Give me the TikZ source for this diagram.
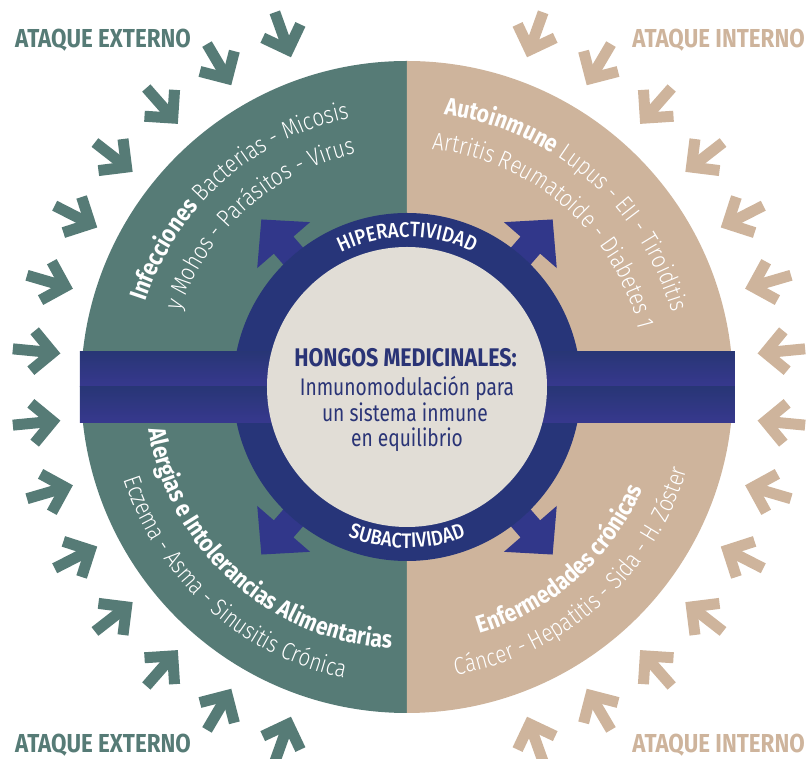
\documentclass[tikz,border=0pt]{standalone}
\usepackage{fontspec}
\usetikzlibrary{decorations.text}
\setmainfont{Fira Sans}
\newfontfamily\cfam[FakeStretch=0.80]{Fira Sans}
\newfontfamily\cwide[FakeStretch=0.86]{Fira Sans}
\newfontfamily\ctitle[FakeStretch=0.84]{Fira Sans}
\newfontfamily\clight[FakeStretch=0.84]{Fira Sans Light}
\newfontfamily\cmed[FakeStretch=0.88]{Fira Sans Medium}

\definecolor{sage}{HTML}{567B76}
\definecolor{sand}{HTML}{CEB49C}
\definecolor{ringblue}{HTML}{273579}
\definecolor{core}{HTML}{E1DDD6}
\definecolor{inkblue}{HTML}{2A3476}
\definecolor{barTop}{HTML}{283676}
\definecolor{barBot}{HTML}{37388E}
\definecolor{arrowblue}{HTML}{31378A}

% fonts used along the curved lines
\newcommand\ringlt{\clight\fontsize{24.5}{28}\selectfont\color{white}}
\newcommand\ringbf{\cwide\bfseries\fontsize{24.5}{28}\selectfont\color{white}}
\newcommand\ringcap{\cmed\fontsize{21}{25}\selectfont\color{white}}

\tikzset{
  chev/.style={line width=11pt, line join=miter, line cap=butt},
  attack/.style={inner sep=0pt, font=\cwide\bfseries\fontsize{26}{30}\selectfont},
  coretitle/.style={inner sep=0pt, anchor=base, text=inkblue, font=\ctitle\bfseries\fontsize{25.5}{29}\selectfont},
  coreline/.style={inner sep=0pt, anchor=base, text=inkblue, font=\cfam\fontsize{24}{28}\selectfont},
  outarrow/.style={fill=arrowblue},
  curved/.style={decorate, decoration={text along path, text align=center, text={#1}}}
}

\begin{document}
\begin{tikzpicture}[x=1pt,y=1pt]
\useasboundingbox (-407,-372) rectangle (400,387);

% outer disc: external half and internal half
\fill[sage] (0,-326) arc[start angle=-90, end angle=-270, radius=326] -- cycle;
\fill[sand] (0,326) arc[start angle=90, end angle=-90, radius=326] -- cycle;

% chevron arrows pointing at the disc
\foreach \a in {5.5,16.3,27.1,37.9,48.7,59.5,70.3}{
  \foreach \s in {1,-1}{
    \pgfmathsetmacro\ang{\s*\a}
    \pgfmathsetmacro\angL{180+\s*\a}
    \begin{scope}[shift={(2,0)}, shift={(\ang:358)}, rotate=\ang+180]
      \draw[chev, draw=sand] (-40,0) -- (0,0);
      \draw[chev, draw=sand] (-20,20) -- (0,0) -- (-20,-20);
    \end{scope}
    \begin{scope}[shift={(2,0)}, shift={(\angL:358)}, rotate=\angL+180]
      \draw[chev, draw=sage] (-40,0) -- (0,0);
      \draw[chev, draw=sage] (-20,20) -- (0,0) -- (-20,-20);
    \end{scope}
  }
}

% diagonal arrows leaving the ring
\foreach \a in {49,131,229,311}
  \fill[outarrow, rotate=\a] (150,-13) -- (188,-13) -- (188,-35) -- (222,0)
        -- (188,35) -- (188,13) -- (150,13) -- cycle;

% ring
\fill[ringblue] (0,0) circle[radius=174];

% horizontal bar in two bands
\shade[top color=barTop, bottom color=barBot] (-327,35) rectangle (328,0);
\shade[top color=barTop, bottom color=barBot] (-327,0) rectangle (328,-36);

% core
\fill[core] (0,0) circle[radius=140];

% ring labels
\path[curved={|\ringcap|HIPERACTIVIDAD}] (150:150) arc[start angle=150, end angle=30, radius=150];
\path[curved={|\ringcap|SUBACTIVIDAD}] (210:161) arc[start angle=210, end angle=330, radius=161];

% disc texts, upper half
\path[curved={|\ringbf|Infecciones|\ringlt| Bacterias - Micosis}]
  (192:275) arc[start angle=192, end angle=72, radius=275];
\path[curved={|\ringlt|y Mohos - Parásitos - Virus}]
  (192:239) arc[start angle=192, end angle=72, radius=239];
\path[curved={|\ringbf|Autoinmune|\ringlt| Lupus - EII - Tiroiditis}]
  (109:275) arc[start angle=109, end angle=-11, radius=275];
\path[curved={|\ringlt|Artritis Reumatoide - Diabetes 1}]
  (109:239) arc[start angle=109, end angle=-11, radius=239];

% disc texts, lower half
\path[curved={|\ringbf|Alergias e Intolerancias Alimentarias}]
  (168:262) arc[start angle=168, end angle=288, radius=262];
\path[curved={|\ringlt|Eczema - Asma - Sinusitis Crónica}]
  (168:298) arc[start angle=168, end angle=288, radius=298];
\path[curved={|\ringbf|Enfermedades crónicas}]
  (251.5:257) arc[start angle=251.5, end angle=371.5, radius=257];
\path[curved={|\ringlt|Cáncer - Hepatitis - Sida - H. Zóster}]
  (251.5:292) arc[start angle=251.5, end angle=371.5, radius=292];

% core text
\node[coretitle] (title) at (-1.5,20) {HONGOS MEDICINALES:};
\node[coreline] (lineA) at (0,-9) {Inmunomodulación para};
\node[coreline] (lineB) at (-2,-35) {un sistema inmune};
\node[coreline] (lineC) at (0,-60) {en equilibrio};

% corner labels
\node[attack, text=sage, anchor=base west] (extTop) at (-392,339) {ATAQUE EXTERNO};
\node[attack, text=sand, anchor=base east] (intTop) at (398,339) {ATAQUE INTERNO};
\node[attack, text=sage, anchor=base west] (extBot) at (-392,-365.5) {ATAQUE EXTERNO};
\node[attack, text=sand, anchor=base east] (intBot) at (398,-365.5) {ATAQUE INTERNO};
\end{tikzpicture}
\end{document}
